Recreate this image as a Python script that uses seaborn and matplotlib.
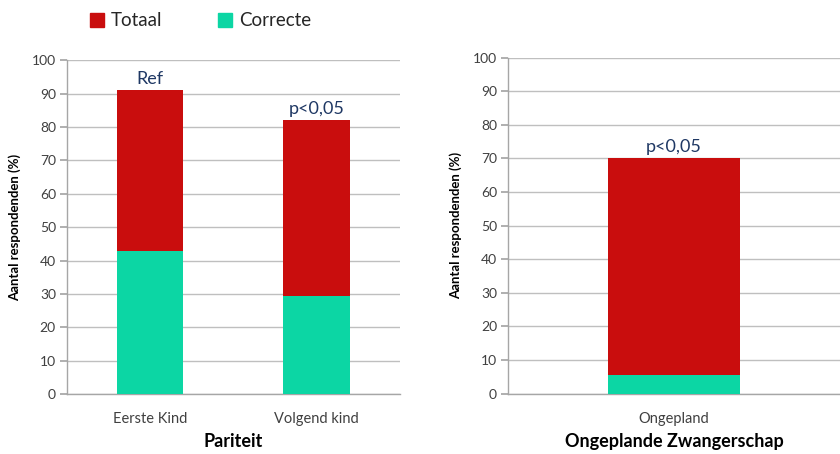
import numpy as np
import pandas as pd
import seaborn as sns
import matplotlib.pyplot as plt
from matplotlib.patches import Patch

# data
par_cats = ['Eerste Kind', 'Volgend kind']
par_totaal = [91, 82]
par_correcte = [43, 29.5]
par_notes = ['Ref', 'p<0,05']

ong_cats = ['Ongepland']
ong_totaal = [70]
ong_correcte = [5.5]
ong_notes = ['p<0,05']

red = '#C90D0D'
green = '#0CD6A4'
navy = '#1F3864'
grey = '#404040'

sns.set_theme(style='white')
plt.rcParams['font.family'] = ['Lato', 'DejaVu Sans']

fig = plt.figure(figsize=(8.4, 4.54), dpi=100)
ax1 = fig.add_axes([0.0798, 0.132, 0.396, 0.735])
ax2 = fig.add_axes([0.605, 0.133, 0.395, 0.740])


def draw(ax, cats, totaal, correcte, notes, xlabel):
    df = pd.DataFrame({'cat': cats, 'Totaal': totaal, 'Correcte': correcte})
    sns.barplot(data=df, x='cat', y='Totaal', color=red, width=0.4,
                saturation=1, linewidth=0, ax=ax, zorder=3)
    sns.barplot(data=df, x='cat', y='Correcte', color=green, width=0.4,
                saturation=1, linewidth=0, ax=ax, zorder=4)
    n = len(cats)
    ax.set_xlim(-0.5, n - 0.5)
    ax.set_ylim(0, 100)
    ax.set_yticks(np.arange(0, 101, 10))
    ax.yaxis.grid(True, color='#BFBFBF', linewidth=1, zorder=0)
    ax.set_axisbelow(True)
    for s in ['top', 'right']:
        ax.spines[s].set_visible(False)
    for s in ['left', 'bottom']:
        ax.spines[s].set_color('#A6A6A6')
        ax.spines[s].set_linewidth(1)
    ax.set_xticks(np.arange(-0.5, n, 1.0), minor=True)
    ax.tick_params(axis='x', which='major', length=0, labelsize=10.5,
                   labelcolor=grey, pad=13)
    ax.tick_params(axis='x', which='minor', length=5, color='#A6A6A6',
                   direction='out')
    ax.tick_params(axis='y', length=5, color='#A6A6A6', direction='out',
                   left=True, labelsize=10, labelcolor=grey, pad=3)
    ax.set_ylabel('Aantal respondenden (%)', fontsize=9.5, fontweight='bold',
                  color='black', labelpad=8)
    ax.set_xlabel(xlabel, fontsize=13, fontweight='bold', color='black',
                  labelpad=5)
    for i, (t, note) in enumerate(zip(totaal, notes)):
        ax.text(i, t + 1.0, note, ha='center', va='bottom', fontsize=13,
                color=navy)


draw(ax1, par_cats, par_totaal, par_correcte, par_notes, 'Pariteit')
draw(ax2, ong_cats, ong_totaal, ong_correcte, ong_notes,
     'Ongeplande Zwangerschap')

handles = [Patch(color=red, label='Totaal'), Patch(color=green, label='Correcte')]
fig.legend(handles=handles, loc='upper left', bbox_to_anchor=(0.087, 1.01),
           ncol=2, frameon=False, fontsize=13.5, handlelength=0.75,
           handleheight=0.75, handletextpad=0.35, columnspacing=3.0)

fig.savefig('out.png', dpi=100)
